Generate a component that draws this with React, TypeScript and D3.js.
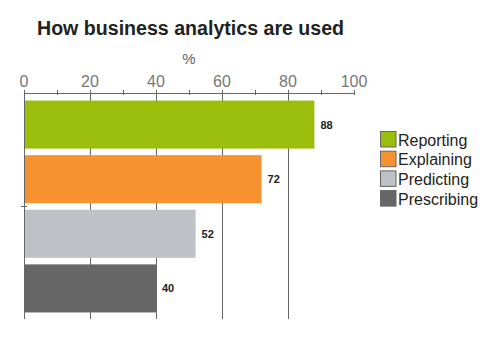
import React from "react";
import * as d3 from "d3";

const categories = ["Reporting", "Explaining", "Predicting", "Prescribing"];
const values = [88, 72, 52, 40];
const colors = ["#9bbe0d", "#f79230", "#bec1c5", "#666666"];
const majorTicks = [0, 20, 40, 60, 80, 100];
const minorTicks = [10, 30, 50, 70, 90];
const gridTicks = [20, 40, 60, 80];

export default function App() {
  const W = 500, H = 340;
  const x = d3.scaleLinear().domain([0, 100]).range([24, 354]);
  const y = d3.scaleBand<string>().domain(categories).range([94, 319]).paddingInner(0.12).paddingOuter(0.12);
  const axisY = 93.5;
  const font = "Liberation Sans, Arial, sans-serif";
  return (
    <svg width={W} height={H} style={{ position: "absolute", left: 0, top: 0, background: "#fff" }} fontFamily={font}>
      <rect width={W} height={H} fill="#fff" />
      <text x={37} y={35} fontSize={19.6} fontWeight="bold" fill="#222">How business analytics are used</text>
      <text x={189} y={64} fontSize={15} fill="#666" textAnchor="middle">%</text>
      {gridTicks.map(t => (
        <line key={"g" + t} x1={Math.round(x(t)) + 0.5} x2={Math.round(x(t)) + 0.5} y1={axisY} y2={319} stroke="#666" strokeWidth={1} />
      ))}
      {categories.map((c, i) => (
        <g key={c}>
          <rect x={x(0)} y={y(c)!} width={x(values[i]) - x(0)} height={y.bandwidth()} fill={colors[i]} />
          <text x={x(values[i]) + 6} y={y(c)! + y.bandwidth() / 2 + 4} fontSize={11} fontWeight="bold" fill="#222">{values[i]}</text>
        </g>
      ))}
      <line x1={x(0)} x2={x(100)} y1={axisY} y2={axisY} stroke="#666" strokeWidth={1} />
      <line x1={x(0) + 0.5} x2={x(0) + 0.5} y1={axisY} y2={319} stroke="#666" strokeWidth={1} />
      <line x1={21} x2={27} y1={206.5} y2={206.5} stroke="#666" strokeWidth={1} />
      {majorTicks.concat(minorTicks).map(t => (
        <line key={"t" + t} x1={Math.round(x(t)) + 0.5} x2={Math.round(x(t)) + 0.5} y1={90} y2={axisY + 1.5} stroke="#666" strokeWidth={1} />
      ))}
      {majorTicks.map(t => (
        <text key={"l" + t} x={x(t)} y={87} fontSize={16} fill="#777" textAnchor="middle">{t}</text>
      ))}
      {categories.map((c, i) => (
        <g key={"leg" + c} transform={`translate(380.5, ${131.5 + i * 19.7})`}>
          <rect width={15.5} height={15.5} fill={colors[i]} stroke="#666" strokeWidth={1} />
          <text x={17.5} y={14} fontSize={16} fill="#222">{c}</text>
        </g>
      ))}
    </svg>
  );
}
